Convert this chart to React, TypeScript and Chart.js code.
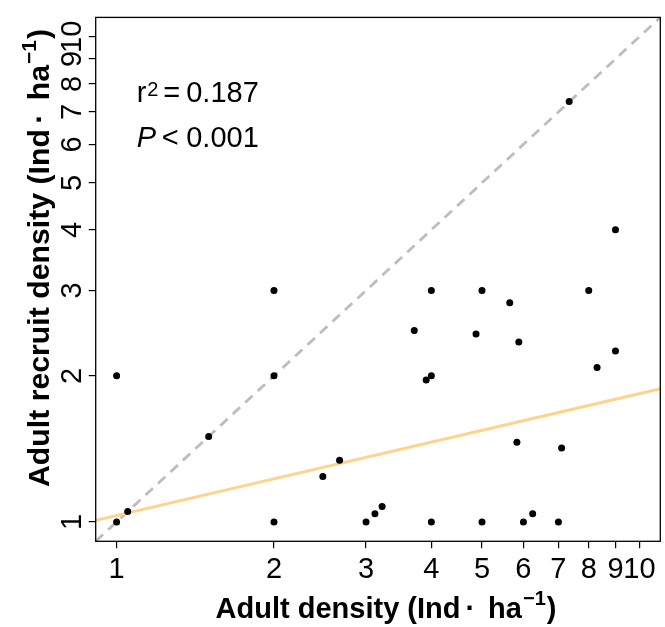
import React, { useEffect, useRef } from "react";
import { Chart, registerables } from "chart.js";

Chart.register(...registerables);

// ---- data ----
const adultDensity = [
  1, 1, 1.05, 1.5, 2, 2, 2, 2.48, 2.67, 3, 3.12, 3.22, 4, 4, 3.91, 3.71, 4,
  4.87, 5, 5, 5.65, 5.83, 5.88, 6, 6.25, 7, 7.1, 7.34, 8, 8.3, 9, 9,
];
const recruitDensity = [
  1, 2, 1.05, 1.5, 1, 2, 3, 1.24, 1.34, 1, 1.04, 1.076, 1, 2, 1.96, 2.48, 3,
  2.44, 1, 3, 2.83, 1.46, 2.35, 1, 1.04, 1, 1.42, 7.36, 3, 2.08, 2.25, 4,
];
const tickValues = [1, 2, 3, 4, 5, 6, 7, 8, 9, 10];
const axisLimits = [0.912, 10.965];
const regressionCoef = [1.031, 0.2513]; // y = a * x^b
const r2Text = "0.187";
const pText = "0.001";
const xTitleMain = "Adult density (Ind";
const yTitleMain = "Adult recruit density (Ind";
const unitText = "ha";
const unitExp = "\u22121";

const FONT = '"Liberation Sans", Arial, Helvetica, sans-serif';

type Part = { text: string; font: string; dx?: number; dy?: number };

function partsWidth(ctx: CanvasRenderingContext2D, parts: Part[]) {
  let w = 0;
  for (const p of parts) {
    ctx.font = p.font;
    w += (p.dx || 0) + ctx.measureText(p.text).width;
  }
  return w;
}

function drawParts(ctx: CanvasRenderingContext2D, parts: Part[], x0: number, y0: number) {
  let x = x0;
  for (const p of parts) {
    ctx.font = p.font;
    x += p.dx || 0;
    ctx.fillText(p.text, x, y0 + (p.dy || 0));
    x += ctx.measureText(p.text).width;
  }
}

function titleParts(main: string): Part[] {
  const b = `bold 29px ${FONT}`;
  const s = `bold 20px ${FONT}`;
  return [
    { text: main, font: b },
    { text: "\u00B7", font: b, dx: 5 },
    { text: unitText, font: b, dx: 13 },
    { text: unitExp, font: s, dx: 1, dy: -13 },
    { text: ")", font: b, dx: 1 },
  ];
}

const decorPlugin = {
  id: "decor",
  afterDraw(chart: any) {
    const { ctx, chartArea } = chart;
    const { left, top, right, bottom } = chartArea;
    ctx.save();
    // frame
    ctx.strokeStyle = "#000";
    ctx.lineWidth = 1.3;
    ctx.strokeRect(left, top, right - left, bottom - top);

    ctx.fillStyle = "#000";
    ctx.textBaseline = "alphabetic";
    ctx.textAlign = "left";
    const nf = `29px ${FONT}`;
    const L = left + 41;
    // r^2 line
    ctx.font = nf;
    ctx.fillText("r", L, top + 85);
    ctx.font = `20px ${FONT}`;
    ctx.fillText("2", L + 10.5, top + 78.4);
    ctx.font = nf;
    ctx.fillText("=", L + 26.5, top + 85);
    ctx.fillText(r2Text, L + 49.5, top + 85);
    // P line
    ctx.font = `italic 29px ${FONT}`;
    ctx.fillText("P", L, top + 129.4);
    ctx.font = nf;
    ctx.fillText("<", L + 25, top + 129.4);
    ctx.fillText(pText, L + 49.5, top + 129.4);

    // x title
    const xp = titleParts(xTitleMain);
    const xw = partsWidth(ctx, xp);
    drawParts(ctx, xp, 386 - xw / 2, 618);

    // y title (stretched along its reading direction to match the reference span)
    const yp = titleParts(yTitleMain);
    const yw = partsWidth(ctx, yp);
    const targetLen = 458;
    ctx.translate(49.3, 258);
    ctx.rotate(-Math.PI / 2);
    ctx.scale(targetLen / yw, 1);
    drawParts(ctx, yp, -yw / 2, 0);
    ctx.restore();
  },
};

export default function App() {
  const canvasRef = useRef<HTMLCanvasElement | null>(null);

  useEffect(() => {
    document.body.style.margin = "0";
    const canvas = canvasRef.current;
    if (!canvas) return;

    const points = adultDensity.map((x, i) => ({ x, y: recruitDensity[i] }));
    const [lo, hi] = axisLimits;
    const [a, b] = regressionCoef;
    const oneToOne = [
      { x: lo, y: lo },
      { x: hi, y: hi },
    ];
    const regLine = [
      { x: lo, y: a * Math.pow(lo, b) },
      { x: hi, y: a * Math.pow(hi, b) },
    ];

    const tickFont = { family: FONT, size: 29 };

    const chart = new Chart(canvas, {
      type: "scatter",
      data: {
        datasets: [
          {
            label: "sites",
            data: points,
            pointRadius: 3.5,
            pointBackgroundColor: "#000",
            pointBorderWidth: 0,
            order: 0,
          } as any,
          {
            type: "line",
            label: "fit",
            data: regLine,
            borderColor: "#FFD38C",
            borderWidth: 3,
            pointRadius: 0,
            showLine: true,
            order: 1,
          } as any,
          {
            type: "line",
            label: "1:1",
            data: oneToOne,
            borderColor: "#BDBDBD",
            borderWidth: 2.8,
            borderDash: [10, 7],
            pointRadius: 0,
            showLine: true,
            order: 2,
          } as any,
        ],
      },
      options: {
        responsive: false,
        animation: false,
        layout: { padding: { left: 0, right: 4.7, top: 12.3, bottom: 0 } },
        plugins: {
          legend: { display: false },
          tooltip: { enabled: false },
        },
        scales: {
          x: {
            type: "logarithmic",
            min: lo,
            max: hi,
            afterBuildTicks: (s: any) => {
              s.ticks = tickValues.map((v) => ({ value: v }));
            },
            afterFit: (s: any) => {
              s.height = 85.7;
            },
            ticks: {
              autoSkip: false,
              maxRotation: 0,
              minRotation: 0,
              padding: 4,
              color: "#000",
              font: tickFont,
              callback: (v: any) => String(v),
            },
            grid: {
              display: true,
              drawOnChartArea: false,
              drawTicks: true,
              tickLength: 7,
              color: "#000",
              lineWidth: 1.2,
            },
            border: { display: false },
          },
          y: {
            type: "logarithmic",
            min: lo,
            max: hi,
            afterBuildTicks: (s: any) => {
              s.ticks = tickValues.map((v) => ({ value: v }));
            },
            afterFit: (s: any) => {
              s.width = 95.7;
            },
            ticks: {
              autoSkip: false,
              minRotation: 90,
              maxRotation: 90,
              crossAlign: "center",
              padding: 0,
              color: "#000",
              font: tickFont,
              callback: (v: any) => String(v),
            },
            grid: {
              display: true,
              drawOnChartArea: false,
              drawTicks: true,
              tickLength: 7,
              color: "#000",
              lineWidth: 1.2,
            },
            border: { display: false },
          },
        },
      } as any,
      plugins: [decorPlugin],
    });

    return () => chart.destroy();
  }, []);

  return (
    <div style={{ width: 665, height: 627 }}>
      <canvas ref={canvasRef} width={665} height={627} style={{ display: "block" }} />
    </div>
  );
}
